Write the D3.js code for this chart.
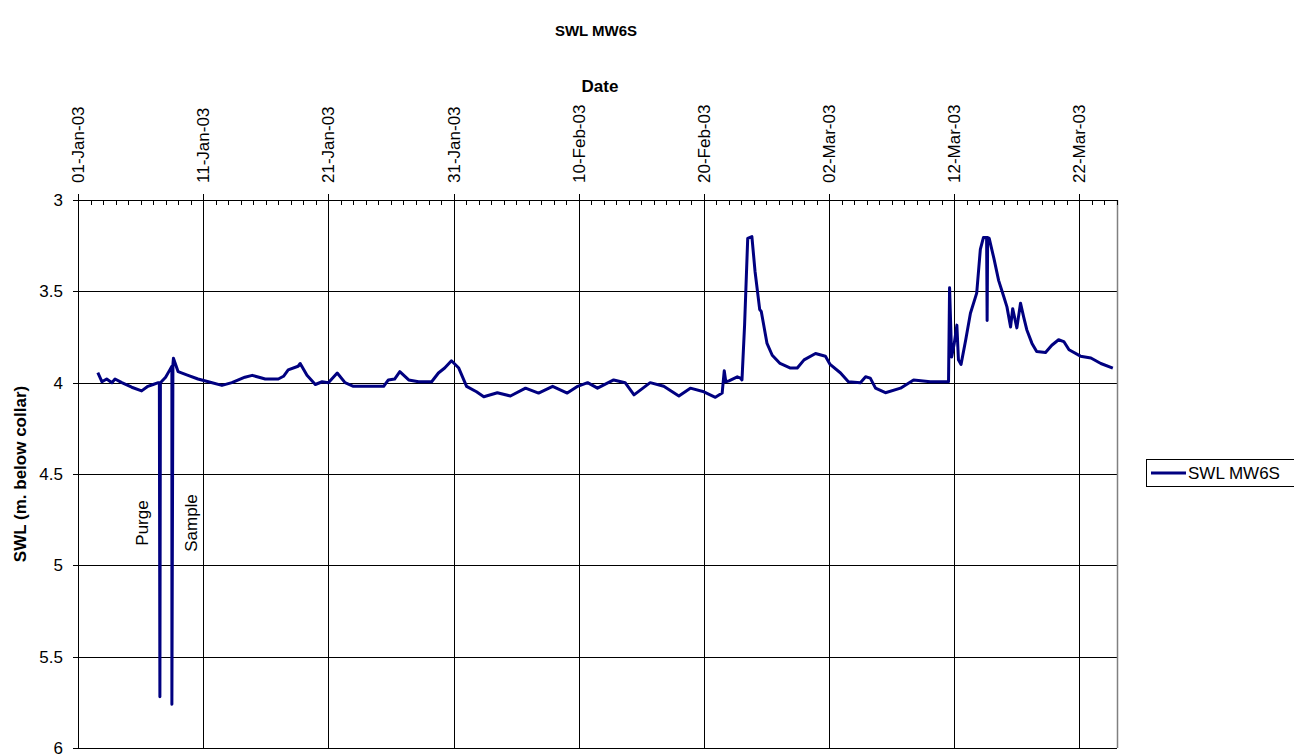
<!DOCTYPE html>
<html>
<head>
<meta charset="utf-8">
<script src="https://cdn.jsdelivr.net/npm/d3@7"></script>
<style>
  body { margin: 0; background: #fff; }
  svg { font-family: "Liberation Sans", Arial, sans-serif; }
</style>
</head>
<body>
<div id="chart"></div>
<script>
// days after 01-Jan-03 and water level (m below collar)
var dayOffset = [1.58,1.9,2.3,2.7,2.97,3.5,4.3,5.1,5.6,6.0,6.4,6.52,6.55,6.6,7.0,7.35,7.48,7.52,7.58,7.63,
  8.0,8.8,9.6,10.4,11.5,12.3,13.35,13.9,14.95,16.0,16.4,16.8,17.6,17.75,18.3,18.95,19.5,20.0,20.7,21.35,
  22.0,22.9,24.4,24.8,25.3,25.7,26.4,27.2,28.25,28.8,29.3,29.85,30.4,31.05,31.85,32.4,33.5,34.55,35.75,36.8,
  37.9,39.1,39.9,40.7,41.5,42.8,43.7,44.4,45.7,46.8,48.0,48.9,50.0,50.9,51.45,51.62,51.75,52.0,52.65,52.9,
  53.05,53.26,53.5,53.85,54.1,54.45,54.6,55.05,55.45,56.1,56.9,57.45,58.0,58.9,59.7,60.1,60.9,61.55,62.5,62.9,
  63.3,63.7,64.5,65.7,66.75,68.1,69.55,69.63,69.8,70.0,70.2,70.35,70.55,70.9,71.3,71.8,72.1,72.35,72.6,72.62,
  72.66,72.8,73.15,73.55,73.95,74.2,74.5,74.65,75.0,75.3,75.55,75.8,76.2,76.6,77.3,77.8,78.35,78.75,79.15,80.1,
  80.9,81.7,82.65];
var swl = [3.945,3.995,3.98,4.0,3.98,4.0,4.025,4.045,4.02,4.01,4.0,4.0,5.72,4.0,3.97,3.93,3.91,5.76,3.9,3.866,
  3.94,3.96,3.98,3.995,4.015,4.0,3.97,3.96,3.98,3.98,3.965,3.93,3.91,3.895,3.96,4.01,3.995,4.0,3.947,4.0,
  4.02,4.02,4.02,3.985,3.98,3.94,3.985,3.995,3.995,3.947,3.92,3.88,3.92,4.02,4.05,4.077,4.055,4.073,4.03,4.057,
  4.02,4.057,4.02,4.0,4.03,3.985,4.0,4.067,4.0,4.02,4.073,4.03,4.05,4.08,4.057,3.935,3.995,3.99,3.968,3.975,
  3.985,3.685,3.21,3.2,3.39,3.6,3.61,3.785,3.85,3.895,3.92,3.92,3.875,3.84,3.855,3.9,3.947,3.995,4.0,3.968,
  3.975,4.03,4.055,4.03,3.985,3.995,3.995,3.48,3.86,3.785,3.685,3.875,3.9,3.765,3.62,3.51,3.27,3.205,3.205,3.66,
  3.205,3.21,3.32,3.44,3.53,3.585,3.695,3.595,3.7,3.565,3.64,3.71,3.785,3.83,3.835,3.795,3.765,3.775,3.82,3.855,
  3.865,3.895,3.92];

var yTicks = [3, 3.5, 4, 4.5, 5, 5.5, 6];
var notes = [{label: "Purge", day: 5.1}, {label: "Sample", day: 9.05}];
var seriesName = "SWL MW6S";

var width = 1294, height = 755;
var pl = 78, pr = 1117, pt = 200, pb = 748;

var start = new Date(2003, 0, 1), end = new Date(2003, 2, 25);
var toDate = d => d3.timeHour.offset(start, Math.round(d * 24));

var data = dayOffset.map((d, i) => ({date: toDate(d), v: swl[i]}));

var x = d3.scaleTime().domain([start, end]).range([pl, pr]);
var y = d3.scaleLinear().domain([3, 6]).range([pt, pb]);

var svg = d3.select("#chart").append("svg")
    .attr("width", width).attr("height", height);

var majors = d3.timeDay.range(start, d3.timeDay.offset(end, 1), 10);
var minors = d3.timeDay.range(start, d3.timeDay.offset(end, 1));

// grid
svg.append("g").selectAll("line").data(yTicks.slice(1))
  .join("line")
    .attr("x1", pl).attr("x2", pr)
    .attr("y1", d => Math.round(y(d)) + 0.5).attr("y2", d => Math.round(y(d)) + 0.5)
    .attr("stroke", "#000").attr("stroke-width", 1);
svg.append("g").selectAll("line").data(majors.slice(1))
  .join("line")
    .attr("x1", d => Math.round(x(d)) + 0.5).attr("x2", d => Math.round(x(d)) + 0.5)
    .attr("y1", pt).attr("y2", pb)
    .attr("stroke", "#000").attr("stroke-width", 1);

// right border of plot area
svg.append("line")
    .attr("x1", pr + 0.5).attr("x2", pr + 0.5).attr("y1", pt).attr("y2", pb)
    .attr("stroke", "#808080").attr("stroke-width", 1.5);

// top date axis
var gx = svg.append("g");
gx.append("line").attr("x1", pl).attr("x2", pr + 1).attr("y1", pt + 0.5).attr("y2", pt + 0.5)
    .attr("stroke", "#000");
gx.selectAll(".minor").data(minors)
  .join("line").attr("class", "minor")
    .attr("x1", d => Math.round(x(d)) + 0.5).attr("x2", d => Math.round(x(d)) + 0.5)
    .attr("y1", pt).attr("y2", pt + 5)
    .attr("stroke", "#000");
gx.selectAll(".major").data(majors)
  .join("line").attr("class", "major")
    .attr("x1", d => Math.round(x(d)) + 0.5).attr("x2", d => Math.round(x(d)) + 0.5)
    .attr("y1", pt - 6).attr("y2", pt + 5)
    .attr("stroke", "#000");
gx.selectAll("text").data(majors)
  .join("text")
    .attr("transform", d => "translate(" + (x(d) + 6) + "," + (pt - 17) + ") rotate(-90)")
    .attr("font-size", 17)
    .text(d3.timeFormat("%d-%b-%y"));

svg.append("text").attr("x", 600).attr("y", 92).attr("text-anchor", "middle")
    .attr("font-size", 17).attr("font-weight", "bold").text("Date");

// left axis
var gy = svg.append("g");
gy.append("line").attr("x1", pl + 0.5).attr("x2", pl + 0.5).attr("y1", pt).attr("y2", pb + 1)
    .attr("stroke", "#000");
gy.selectAll("line.t").data(yTicks)
  .join("line").attr("class", "t")
    .attr("x1", pl - 5).attr("x2", pl)
    .attr("y1", d => Math.round(y(d)) + 0.5).attr("y2", d => Math.round(y(d)) + 0.5)
    .attr("stroke", "#000");
gy.selectAll("text").data(yTicks)
  .join("text")
    .attr("x", 63).attr("y", d => y(d) + 6)
    .attr("text-anchor", "end").attr("font-size", 17)
    .text(d => d);

svg.append("text")
    .attr("transform", "translate(26," + ((pt + pb) / 2) + ") rotate(-90)")
    .attr("text-anchor", "middle").attr("font-size", 17).attr("font-weight", "bold")
    .text("SWL (m. below collar)");

// title
svg.append("text").attr("x", 596).attr("y", 36).attr("text-anchor", "middle")
    .attr("font-size", 15).attr("font-weight", "bold").text("SWL MW6S");

// series
svg.append("path").datum(data)
    .attr("fill", "none").attr("stroke", "#000080").attr("stroke-width", 3)
    .attr("stroke-linejoin", "round")
    .attr("d", d3.line().x(d => x(d.date)).y(d => y(d.v)));

// annotations
svg.selectAll("text.note").data(notes)
  .join("text").attr("class", "note")
    .attr("transform", d => "translate(" + (x(toDate(d.day)) + 6) + ",523) rotate(-90)")
    .attr("text-anchor", "middle").attr("font-size", 17)
    .text(d => d.label);

// legend
var lg = svg.append("g").attr("transform", "translate(1146,459)");
lg.append("rect").attr("x", 0.5).attr("y", 0.5).attr("width", 160).attr("height", 27)
    .attr("fill", "#fff").attr("stroke", "#000");
lg.append("line").attr("x1", 5).attr("x2", 40).attr("y1", 14).attr("y2", 14)
    .attr("stroke", "#000080").attr("stroke-width", 3);
lg.append("text").attr("x", 42).attr("y", 20).attr("font-size", 17).text(seriesName);
</script>
</body>
</html>
